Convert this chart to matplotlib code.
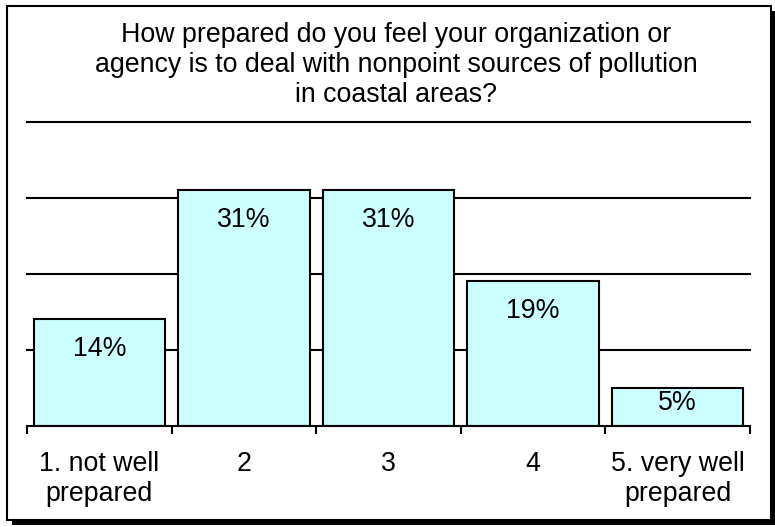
import matplotlib.pyplot as plt
from matplotlib.patches import Rectangle
import numpy as np

plt.rcParams['font.family'] = ['Liberation Sans', 'DejaVu Sans']

# survey answers, share of respondents in %
categories = ["1. not well\nprepared", "2", "3", "4", "5. very well\nprepared"]
percent = [14, 31, 31, 19, 5]
title = ("How prepared do you feel your organization or\n"
         "agency is to deal with nonpoint sources of pollution\n"
         "in coastal areas?")

FS = 19.3

fig = plt.figure(figsize=(7.75, 5.27), dpi=100)

# framed box with a drop shadow around the whole chart
W, H = 775, 527
shadow = Rectangle((12 / W, 2 / H), (771 - 7) / W, (520 - 6) / H,
                   transform=fig.transFigure, facecolor='black',
                   edgecolor='none', zorder=0)
frame = Rectangle((7 / W, 7 / H), (771 - 7) / W, (520 - 6) / H,
                  transform=fig.transFigure, facecolor='white',
                  edgecolor='black', linewidth=1.5, zorder=1)
fig.patches.extend([shadow, frame])

ax = fig.add_axes([27 / W, 101.3 / H, (750 - 27) / W, 304 / H])
ax.set_zorder(2)
ax.patch.set_visible(False)

x = np.arange(len(categories))
bars = ax.bar(x, percent, width=0.91, color='#CCFFFF', edgecolor='black',
              linewidth=1.5, zorder=3)

# value labels sit just inside the top of each bar
for b, v in zip(bars, percent):
    ypos = max(v - 3.9, v * 0.6)
    ax.text(b.get_x() + b.get_width() / 2, ypos, f"{v}%", ha='center',
            va='center', fontsize=FS, zorder=4)

ax.set_xlim(-0.5, len(categories) - 0.5)
ax.set_ylim(0, 40)
ax.set_yticks([10, 20, 30, 40])
ax.yaxis.grid(True, color='black', linewidth=1.5)
for gl in ax.get_ygridlines():
    gl.set_clip_on(False)
ax.set_axisbelow(True)
ax.tick_params(axis='y', left=False, labelleft=False)

ax.set_xticks(x)
ax.set_xticklabels(categories, fontsize=FS, linespacing=1.2)
ax.set_xticks(np.arange(len(categories) + 1) - 0.5, minor=True)
ax.tick_params(axis='x', which='major', length=0, pad=18)
ax.tick_params(axis='x', which='minor', length=6, width=1.5, color='black')

for s in ['top', 'right', 'left']:
    ax.spines[s].set_visible(False)
ax.spines['bottom'].set_linewidth(1.5)
ax.spines['bottom'].set_zorder(5)

fig.text(396 / W, 1 - 65 / H, title, ha='center', va='center',
         fontsize=FS, linespacing=1.2, zorder=3)

fig.savefig('out.png', dpi=100)
